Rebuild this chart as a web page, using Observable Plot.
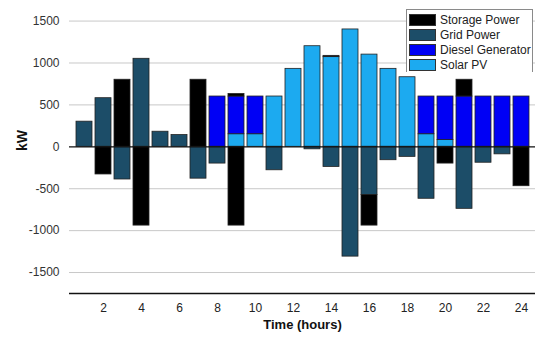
<!DOCTYPE html>
<html>
<head>
<meta charset="utf-8">
<script src="https://cdn.jsdelivr.net/npm/d3@7"></script>
<script src="https://cdn.jsdelivr.net/npm/@observablehq/plot@0.6"></script>
<style>
  html, body { margin: 0; padding: 0; background: #fff; }
  #wrap { position: relative; width: 550px; height: 340px; font-family: "Liberation Sans", Arial, sans-serif; }
  #legend { position: absolute; left: 406px; top: 9px; width: 127px; height: 63px; background: #fff;
            border: 1px solid #8a8a8a; border-bottom: none; box-sizing: border-box; padding: 2px 0 0 2px; }
  .item { display: flex; align-items: center; height: 15px; font-size: 12px; color: #222; white-space: nowrap; }
  .sw { flex: none; width: 27px; height: 12px; margin-right: 4px; box-sizing: border-box; border: 1px solid #333; }
</style>
</head>
<body>
<div id="wrap"><div id="chart"></div><div id="legend"></div></div>
<script>
const hours = d3.range(1, 25);
const seriesNames = ["Storage Power", "Grid Power", "Diesel Generator", "Solar PV"];
const seriesColors = ["#000000", "#1c4d68", "#0000f5", "#1caaf0"];
const yTicks = [-1500, -1000, -500, 0, 500, 1000, 1500];
const xTicks = [2, 4, 6, 8, 10, 12, 14, 16, 18, 20, 22, 24];

const solar       = [0,0,0,0,0,0,0,0,150,150,600,930,1200,1070,1400,1100,930,830,150,80,0,0,0,0];
const diesel      = [0,0,0,0,0,0,0,600,450,450,0,0,0,0,0,0,0,0,450,520,600,600,600,600];
const gridPos     = [300,580,0,1050,180,140,0,0,0,0,0,0,0,0,0,0,0,0,0,0,0,0,0,0];
const gridNeg     = [0,0,-390,0,0,0,-380,-200,0,0,-280,0,-30,-240,-1310,-575,-160,-120,-620,0,-740,-190,-90,0];
const storagePos  = [0,0,800,0,0,0,800,0,30,0,0,0,0,15,0,0,0,0,0,0,200,0,0,0];
const storageNeg  = [0,-330,0,-940,0,0,0,0,-940,0,0,0,0,0,0,-365,0,0,0,-200,0,0,0,-470];

const parts = [
  ["Solar PV", solar], ["Diesel Generator", diesel],
  ["Grid Power", gridPos], ["Grid Power", gridNeg],
  ["Storage Power", storagePos], ["Storage Power", storageNeg]
];
const rows = [];
hours.forEach((h, i) => {
  parts.forEach(([s, arr]) => { if (arr[i] !== 0) rows.push({hour: h, series: s, value: arr[i]}); });
});

const chart = Plot.plot({
  width: 550, height: 340,
  marginLeft: 69, marginRight: 15, marginTop: 8, marginBottom: 47,
  style: {fontFamily: "Liberation Sans, Arial, sans-serif", fontSize: "12px", color: "#333"},
  x: {type: "band", domain: hours, paddingInner: 0.17, paddingOuter: 0.08},
  y: {domain: [-1750, 1650]},
  color: {domain: seriesNames, range: seriesColors},
  marks: [
    Plot.ruleY(yTicks.filter(d => d !== 0), {stroke: "#c8c8c8", strokeWidth: 1}),
    Plot.barY(rows, Plot.stackY({order: null}, {x: "hour", y: "value", fill: "series", stroke: "#222", strokeWidth: 0.8})),
    Plot.ruleY([0], {stroke: "#111", strokeWidth: 1.3}),
    Plot.ruleY([-1750], {stroke: "#111", strokeWidth: 1.5}),
    Plot.axisY(yTicks, {tickSize: 0, tickPadding: 10, label: null, tickFormat: d => String(d), fontSize: 12, fill: "#333"}),
    Plot.axisX(xTicks, {tickSize: 0, tickPadding: 10, label: null, tickFormat: d => String(d), fontSize: 12, fill: "#222"}),
    Plot.text(["kW"], {frameAnchor: "left", dx: -47, rotate: -90, fontWeight: "bold", fontSize: 14, fill: "#111"}),
    Plot.text(["Time (hours)"], {frameAnchor: "bottom", dy: 35, fontWeight: "bold", fontSize: 13, fill: "#111"})
  ]
});
document.getElementById("chart").appendChild(chart);

const legend = document.getElementById("legend");
seriesNames.forEach((s, i) => {
  const it = document.createElement("div");
  it.className = "item";
  const sw = document.createElement("div");
  sw.className = "sw";
  sw.style.background = seriesColors[i];
  const t = document.createElement("span");
  t.textContent = s;
  it.appendChild(sw); it.appendChild(t);
  legend.appendChild(it);
});
</script>
</body>
</html>
